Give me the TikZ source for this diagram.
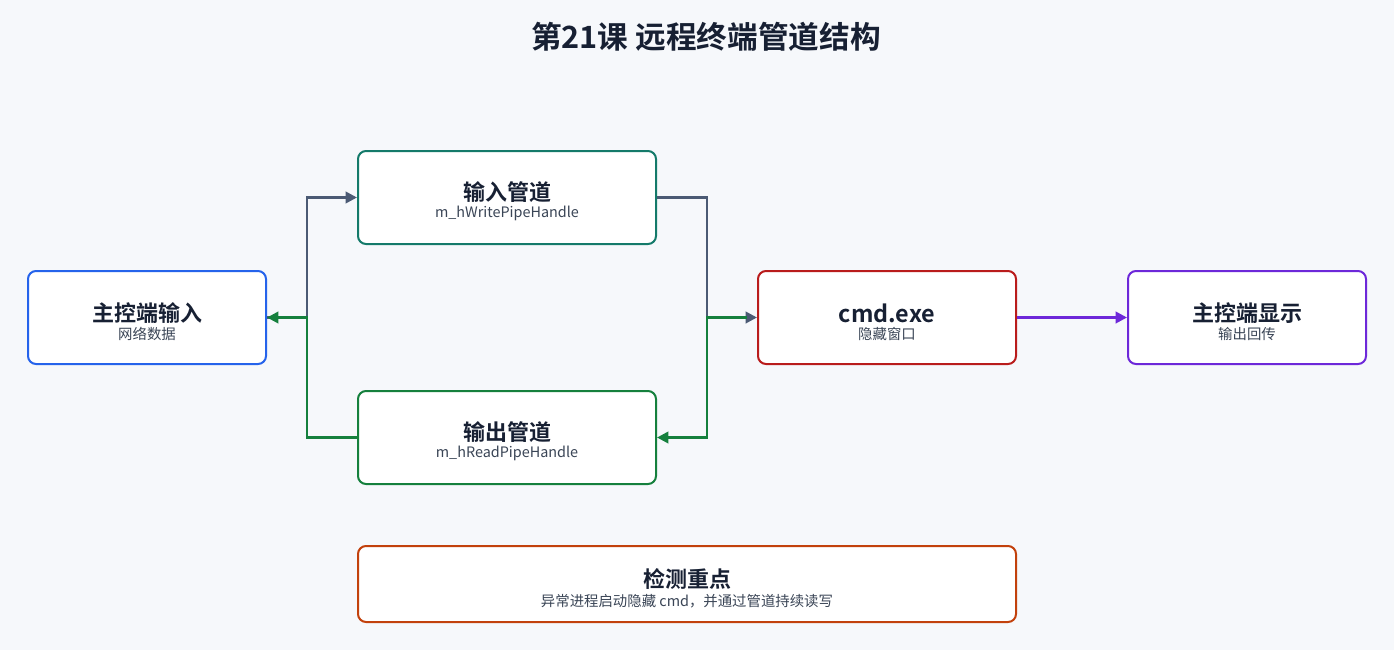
\documentclass[tikz,border=0pt]{standalone}
\usepackage{fontspec}
\setmainfont{Noto Sans CJK SC}[BoldFont={Noto Sans CJK SC Bold}]
\usetikzlibrary{arrows.meta}
\definecolor{bg}{HTML}{F6F8FB}
\definecolor{ink}{HTML}{172033}
\definecolor{sub}{HTML}{3A4556}
\definecolor{cblue}{HTML}{2563EB}
\definecolor{cteal}{HTML}{147A6A}
\definecolor{cgreen}{HTML}{15803D}
\definecolor{cred}{HTML}{B91C1C}
\definecolor{cpurple}{HTML}{6D28D9}
\definecolor{corange}{HTML}{C2410C}
\definecolor{cslate}{HTML}{4B5A74}
\tikzset{
  box/.style={draw, line width=1.5pt, rounded corners=6pt, fill=white, inner sep=0pt},
  ttl/.style={font=\bfseries\fontsize{16.5}{19}\selectfont, text=ink, inner sep=0pt},
  stl/.style={font=\fontsize{10.8}{13}\selectfont, text=sub, inner sep=0pt},
  conn/.style={line width=2pt, -{Triangle[length=8.5pt,width=8.5pt]}},
}
\begin{document}
\begin{tikzpicture}[x=0.75pt,y=-0.75pt]
\fill[bg] (0,0) rectangle (1394,650);
\useasboundingbox (0,0) rectangle (1394,650);
\node[font=\bfseries\fontsize{23}{27}\selectfont, text=ink] (title) at (706,37) {第21课 远程终端管道结构};
% boxes
\node[box, draw=cblue, minimum width=178.5pt, minimum height=69.75pt] (src) at (147,317.5) {};
\node[box, draw=cteal, minimum width=223.5pt, minimum height=69.75pt] (inp) at (507,197.5) {};
\node[box, draw=cgreen, minimum width=223.5pt, minimum height=69.75pt] (outp) at (507,437.5) {};
\node[box, draw=cred, minimum width=193.5pt, minimum height=69.75pt] (cmd) at (887,317.5) {};
\node[box, draw=cpurple, minimum width=178.5pt, minimum height=69.75pt] (disp) at (1247,317.5) {};
\node[box, draw=corange, minimum width=493.5pt, minimum height=57pt] (det) at (687,584) {};
% texts
\node[ttl] (srct) at (147,313) {主控端输入};
\node[stl] (srcs) at (147,334) {网络数据};
\node[ttl] (inpt) at (507,192) {输入管道};
\node[stl] (inps) at (507,213) {m\_hWritePipeHandle};
\node[ttl] (outpt) at (507,432) {输出管道};
\node[stl] (outps) at (507,453) {m\_hReadPipeHandle};
\node[ttl, font=\bfseries\fontsize{17.5}{20}\selectfont] (cmdt) at (887,313) {cmd.exe};
\node[stl] (cmds) at (887,334) {隐藏窗口};
\node[ttl] (dispt) at (1247,313) {主控端显示};
\node[stl] (disps) at (1247,334) {输出回传};
\node[ttl] (dett) at (687,579) {检测重点};
\node[stl] (dets) at (687,601) {异常进程启动隐藏 cmd，并通过管道持续读写};
% junctions
\coordinate (jl) at (307,317.5);
\coordinate (jr) at (707,317.5);
% connectors
\draw[conn, cslate] (src.east) -- (jl) |- (inp.west);
\draw[conn, cslate] (inp.east) -| (jr) -- (cmd.west);
\draw[conn, cgreen] (cmd.west) ++(-10,0) -- (jr) |- (outp.east);
\draw[conn, cgreen] (outp.west) -| (jl) -- (src.east);
\draw[conn, cpurple] (cmd.east) -- (disp.west);
\end{tikzpicture}
\end{document}
